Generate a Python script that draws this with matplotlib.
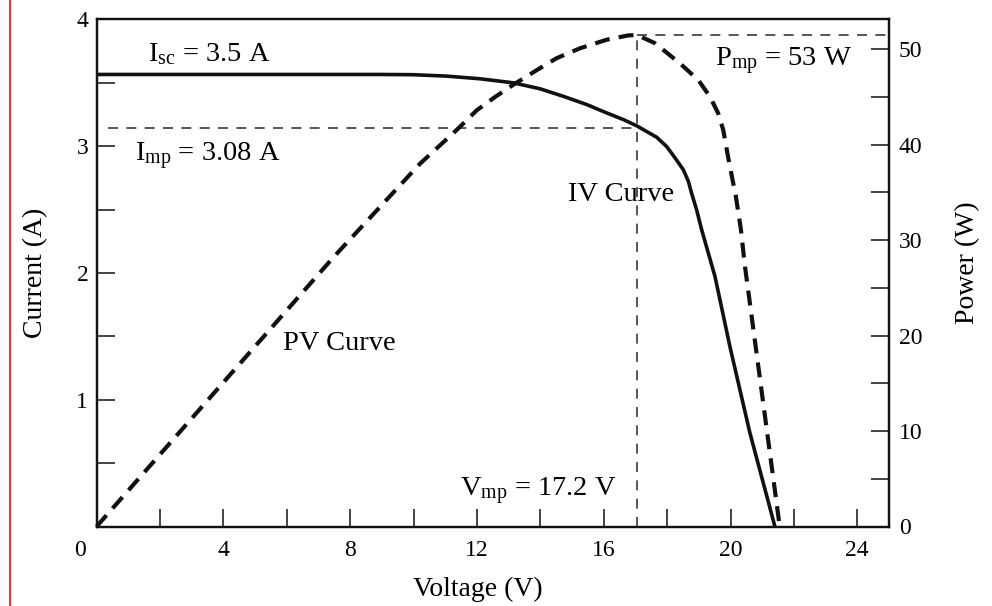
import matplotlib
matplotlib.use("Agg")
import matplotlib.pyplot as plt
from matplotlib.lines import Line2D
from matplotlib.ticker import MultipleLocator, FixedLocator
from matplotlib.transforms import ScaledTranslation

plt.rcParams['font.family'] = ['Liberation Serif', 'DejaVu Serif']
plt.rcParams['mathtext.fontset'] = 'custom'
plt.rcParams['mathtext.rm'] = 'Liberation Serif'
plt.rcParams['mathtext.it'] = 'Liberation Serif:italic'

# ---- data ----
iv_voltage = [0, 5, 8.93, 9.99, 11.04, 12.09, 13.15, 13.99, 14.72, 15.46, 16.09,
              16.62, 17.04, 17.25, 17.67, 17.98, 18.25, 18.51, 18.67, 18.77,
              18.93, 19.09, 19.30, 19.51, 19.98, 20.61, 21.40]
iv_current = [3.565, 3.565, 3.565, 3.563, 3.552, 3.531, 3.499, 3.452, 3.393,
              3.328, 3.262, 3.209, 3.160, 3.130, 3.070, 2.998, 2.907, 2.814,
              2.722, 2.630, 2.498, 2.340, 2.156, 1.972, 1.42, 0.74, 0.0]

pv_voltage = [0, 4.0, 7.47, 10.2, 11.41, 11.99, 12.57, 13.2, 13.88, 14.51, 15.25,
              16.09, 16.77, 17.05, 17.62, 18.40, 18.98, 19.35, 19.61, 19.77,
              19.96, 20.17, 20.33, 20.45, 20.99, 21.54]
pv_power = [0, 15.1, 28.2, 38.0, 41.7, 43.6, 45.0, 46.4, 47.8, 49.06, 50.1,
            51.0, 51.45, 51.5, 50.63, 48.53, 46.79, 45.04, 43.30, 41.55,
            38.06, 34.56, 31.07, 27.4, 13.97, 0.3]

vmp_line = 17.05      # V position of the max-power marker
imp_line = 3.145      # A level of the Imp marker
pmp_line = 51.5       # W level of the Pmp marker

x_ticks = [4, 8, 12, 16, 20, 24]
x_minor = [2, 6, 10, 14, 18, 22]
y_ticks = [1, 2, 3, 4]
p_ticks = [0, 10, 20, 30, 40, 50]

labels = {
    'isc': r'I$_{\mathrm{sc}}$ = 3.5 A',
    'imp': r'I$_{\mathrm{mp}}$ = 3.08 A',
    'pmp': r'P$_{\mathrm{mp}}$ = 53 W',
    'vmp': r'V$_{\mathrm{mp}}$ = 17.2 V',
    'iv': 'IV Curve',
    'pv': 'PV Curve',
}

# ---- figure ----
W, H = 992, 606
fig = plt.figure(figsize=(W / 100, H / 100), dpi=100)
ax = fig.add_axes([96.6 / W, 1 - 526.5 / H, (889 - 96.6) / W, (526.5 - 19.3) / H])
ax2 = ax.twinx()

ax.set_xlim(0, 25)
ax.set_ylim(0, 4)
ax2.set_ylim(0, 53.14)

dash_col = '#3a3a3a'
# reference dashed lines
ax.plot([0.35, vmp_line], [imp_line, imp_line], color=dash_col, lw=1.2,
        dashes=(6, 5))
ax2.plot([vmp_line, vmp_line], [0, pmp_line], color=dash_col, lw=1.2,
         dashes=(6, 5))
ax2.plot([vmp_line, 25], [pmp_line, pmp_line], color=dash_col, lw=1.2,
         dashes=(6, 5))

# curves
ax.plot(iv_voltage, iv_current, color='#111111', lw=2.6, solid_capstyle='butt',
        solid_joinstyle='round', clip_on=False)
ax2.plot(pv_voltage, pv_power, color='#111111', lw=3.0, dashes=(3.6, 2.2),
         clip_on=False)

# ticks
tick_fs = 17
tick_kw = dict(direction='in', length=12.7, width=1.1, labelsize=tick_fs,
               color='#111111')
ax.xaxis.set_major_locator(FixedLocator(x_ticks))
ax.xaxis.set_minor_locator(FixedLocator(x_minor))
ax.yaxis.set_major_locator(FixedLocator(y_ticks))
ax.yaxis.set_minor_locator(MultipleLocator(0.5))
ax2.yaxis.set_major_locator(FixedLocator(p_ticks))
ax2.yaxis.set_minor_locator(MultipleLocator(5))
ax.tick_params(axis='x', which='both', pad=10, top=False, **tick_kw)
ax.tick_params(axis='y', which='both', pad=6, right=False, **tick_kw)
ax2.tick_params(axis='y', which='both', pad=7, **tick_kw)
ax.tick_params(which='minor', labelleft=False, labelbottom=False)
ax2.tick_params(which='minor', labelright=False)

for a in (ax, ax2):
    for s in a.spines.values():
        s.set_linewidth(1.6)
        s.set_color('#111111')

# the shared "0" at the lower-left corner
ax.text(-0.52, 0, '0', ha='center', va='top', fontsize=tick_fs,
        transform=ax.get_xaxis_transform()
        + ScaledTranslation(0, -10 / 72, fig.dpi_scale_trans))

# axis labels
lab_fs = 20
ax.text(0.481, -0.125, 'Voltage (V)', transform=ax.transAxes, ha='center',
        va='center', fontsize=lab_fs)
ax.text(-0.077, 0.5, 'Current (A)', transform=ax.transAxes, ha='center',
        va='center', rotation=90, fontsize=lab_fs)
ax.text(1.099, 0.52, 'Power (W)', transform=ax.transAxes, ha='center',
        va='center', rotation=90, fontsize=lab_fs)

# annotations
fs = 20.5
ax.text(1.62, 3.667, labels['isc'], fontsize=fs, va='baseline', ha='left')
ax.text(1.21, 2.88, labels['imp'], fontsize=fs, va='baseline', ha='left')
ax.text(19.5, 3.63, labels['pmp'], fontsize=fs, va='baseline', ha='left')
ax.text(14.88, 2.564, labels['iv'], fontsize=fs, va='baseline', ha='left')
ax.text(5.89, 1.393, labels['pv'], fontsize=fs, va='baseline', ha='left')
ax.text(11.46, 0.24, labels['vmp'], fontsize=fs, va='baseline', ha='left')

# red margin line at the left edge of the picture
fig.add_artist(Line2D([10 / W, 10 / W], [0, 1], transform=fig.transFigure,
                      color='red', lw=1.2))

fig.savefig('out.png', dpi=100)
